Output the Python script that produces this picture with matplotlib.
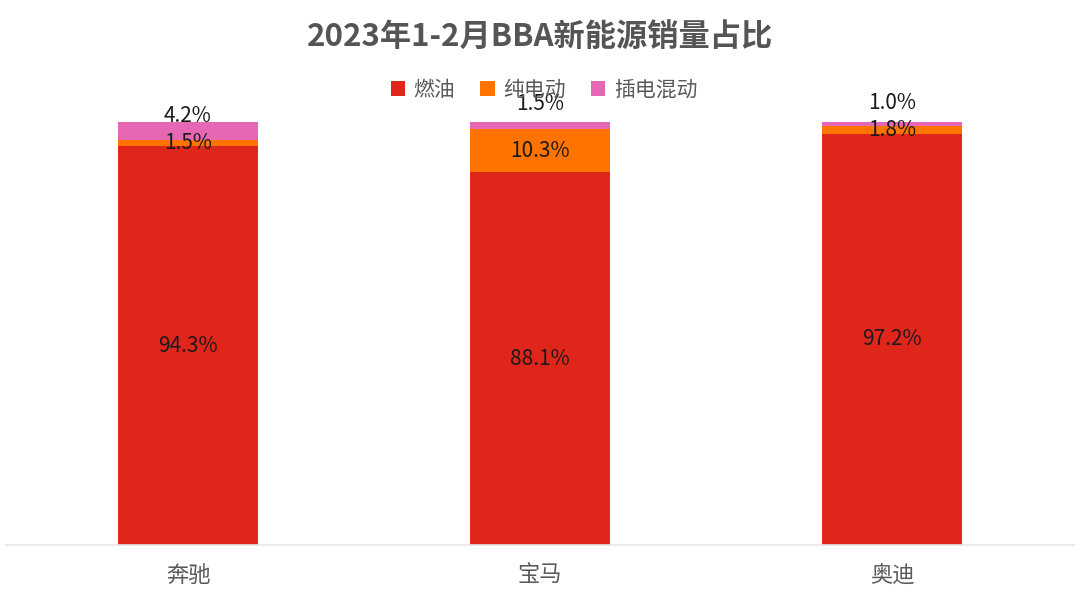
import numpy as np
import matplotlib
matplotlib.use("Agg")
import matplotlib.pyplot as plt

plt.rcParams['font.family'] = ['Noto Sans CJK SC', 'DejaVu Sans']

# data
brands = ['奔驰', '宝马', '奥迪']
fuel = [94.3, 88.1, 97.2]      # 燃油
bev = [1.5, 10.3, 1.8]         # 纯电动
phev = [4.2, 1.5, 1.0]         # 插电混动
series_names = ['燃油', '纯电动', '插电混动']
colors = ['#E0251B', '#FF7300', '#E668B4']

# pink labels were nudged above the bar in the original (points)
phev_label_offset = [4, 13, 14]

fig = plt.figure(figsize=(10.8, 6.08), dpi=100)
ax = fig.add_axes([6/1080, 63/608, 1068/1080, 423/608])

x = np.arange(len(brands))
w = 0.4
fuel = np.array(fuel)
bev = np.array(bev)
phev = np.array(phev)

b1 = ax.bar(x, fuel, w, color=colors[0], label=series_names[0])
b2 = ax.bar(x, bev, w, bottom=fuel, color=colors[1], label=series_names[1])
b3 = ax.bar(x, phev, w, bottom=fuel + bev, color=colors[2], label=series_names[2])

lab_kw = dict(ha='center', va='center', fontsize=15, color='#1a1a1a')
for i in range(len(brands)):
    ax.text(x[i], fuel[i] / 2, f'{fuel[i]:.1f}%', **lab_kw)
    ax.text(x[i], fuel[i] + bev[i] / 2, f'{bev[i]:.1f}%', **lab_kw)
    ax.annotate(f'{phev[i]:.1f}%', (x[i], fuel[i] + bev[i] + phev[i]),
                xytext=(0, phev_label_offset[i]), textcoords='offset points',
                **lab_kw)

ax.set_xlim(-0.517, 2.517)
ax.set_ylim(0, 100)
ax.set_xticks(x)
ax.set_xticklabels(brands, fontsize=16, color='#595959')
ax.tick_params(axis='x', length=0, pad=14)
ax.set_yticks([])
for s in ['top', 'right', 'left']:
    ax.spines[s].set_visible(False)
ax.spines['bottom'].set_color('#e6e6e6')
ax.spines['bottom'].set_linewidth(1.2)

fig.text(0.5, 1 - 38/608, '2023年1-2月BBA新能源销量占比', ha='center', va='center',
         fontsize=22.5, fontweight='bold', color='#555555')

leg = fig.legend(handles=[b1, b2, b3], loc='center', bbox_to_anchor=(544/1080, 1 - 90/608),
                 ncol=3, frameon=False, fontsize=15, handlelength=0.7, handleheight=0.7,
                 handletextpad=0.4, columnspacing=1.2, labelcolor='#595959')

fig.savefig('out.png', dpi=100, facecolor='white')
